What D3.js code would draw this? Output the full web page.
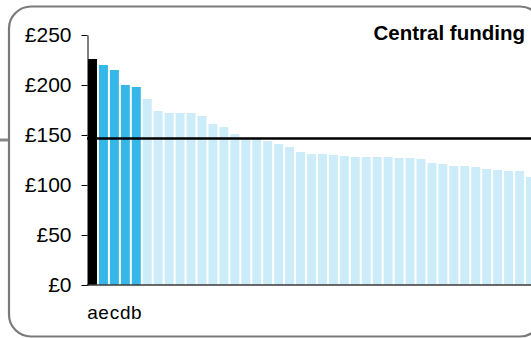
<!DOCTYPE html>
<html>
<head>
<meta charset="utf-8">
<script src="https://cdn.jsdelivr.net/npm/d3@7"></script>
<style>
  html, body { margin: 0; padding: 0; background: #fff; overflow: hidden; }
  svg { display: block; font-family: "Liberation Sans", Arial, sans-serif; }
</style>
</head>
<body>
<div id="central-funding-chart"></div>
<script>
// funding per head, sorted high to low; first five are the named authorities
const labels = ["a", "e", "c", "d", "b"];
const values = [226, 220, 215, 200, 198, 186, 174, 172, 172, 172,
                169, 161, 158, 151, 146, 146, 144, 141, 138, 133,
                131, 131, 130, 129, 128, 128, 128, 128, 127, 127,
                126, 122, 121, 119, 119, 118, 116, 115, 114, 114,
                108];
const yTicks = [0, 50, 100, 150, 200, 250];
const average = 146.5;
const title = "Central funding";

const width = 531;
const height = 338;
const margin = { top: 35, right: -4, bottom: 53, left: 88 };

const svg = d3.select("#central-funding-chart")
    .append("svg")
    .attr("width", width)
    .attr("height", height);

// rounded frame, runs off the right edge like the source
svg.append("rect")
    .attr("x", 9)
    .attr("y", 6.5)
    .attr("width", 533)
    .attr("height", 330)
    .attr("rx", 22)
    .attr("ry", 22)
    .attr("fill", "none")
    .attr("stroke", "#7a7a7a")
    .attr("stroke-width", 2.2);

// little connector stub on the left
svg.append("line")
    .attr("x1", 0)
    .attr("x2", 8)
    .attr("y1", 140)
    .attr("y2", 140)
    .attr("stroke", "#888")
    .attr("stroke-width", 3);

const step = 10.95;
const x = d3.scaleBand()
    .domain(d3.range(values.length))
    .range([margin.left, margin.left + step * (values.length - 0.18)])
    .paddingInner(0.18)
    .paddingOuter(0);

const y = d3.scaleLinear()
    .domain([0, 250])
    .range([height - margin.bottom, margin.top]);

const colour = i => i === 0 ? "#000000" : i < labels.length ? "#35b7e8" : "#cdecf9";

svg.append("g")
    .selectAll("rect")
    .data(values)
    .enter()
    .append("rect")
    .attr("x", (d, i) => x(i))
    .attr("y", d => y(d))
    .attr("width", x.bandwidth())
    .attr("height", d => y(0) - y(d))
    .attr("fill", (d, i) => colour(i));

// average line
svg.append("line")
    .attr("x1", margin.left - 1)
    .attr("x2", width)
    .attr("y1", y(average))
    .attr("y2", y(average))
    .attr("stroke", "#000")
    .attr("stroke-width", 2.5);

// x axis: baseline + the few labels
const xAxis = svg.append("g")
    .attr("class", "x-axis")
    .attr("transform", `translate(0,${y(0)})`)
    .call(d3.axisBottom(x)
        .tickSize(0)
        .tickPadding(20.5)
        .tickFormat(i => labels[i] || ""));

xAxis.select(".domain")
    .attr("stroke", "#3a3a3a")
    .attr("stroke-width", 1.6)
    .attr("d", `M${margin.left - 1},0H${width}`);

xAxis.selectAll("text")
    .attr("fill", "#000")
    .style("font-size", "19px");

// y axis
const yAxis = svg.append("g")
    .attr("class", "y-axis")
    .attr("transform", `translate(${margin.left - 0.5},0)`)
    .call(d3.axisLeft(y)
        .tickValues(yTicks)
        .tickSize(6)
        .tickSizeOuter(0)
        .tickPadding(10)
        .tickFormat(d => "£" + d));

yAxis.selectAll("line, .domain").attr("stroke", "#000");
yAxis.selectAll("text")
    .attr("fill", "#000")
    .style("font-size", "21px");

svg.append("text")
    .attr("x", 525)
    .attr("y", 40)
    .attr("text-anchor", "end")
    .style("font-size", "20.5px")
    .style("font-weight", "bold")
    .text(title);
</script>
</body>
</html>
